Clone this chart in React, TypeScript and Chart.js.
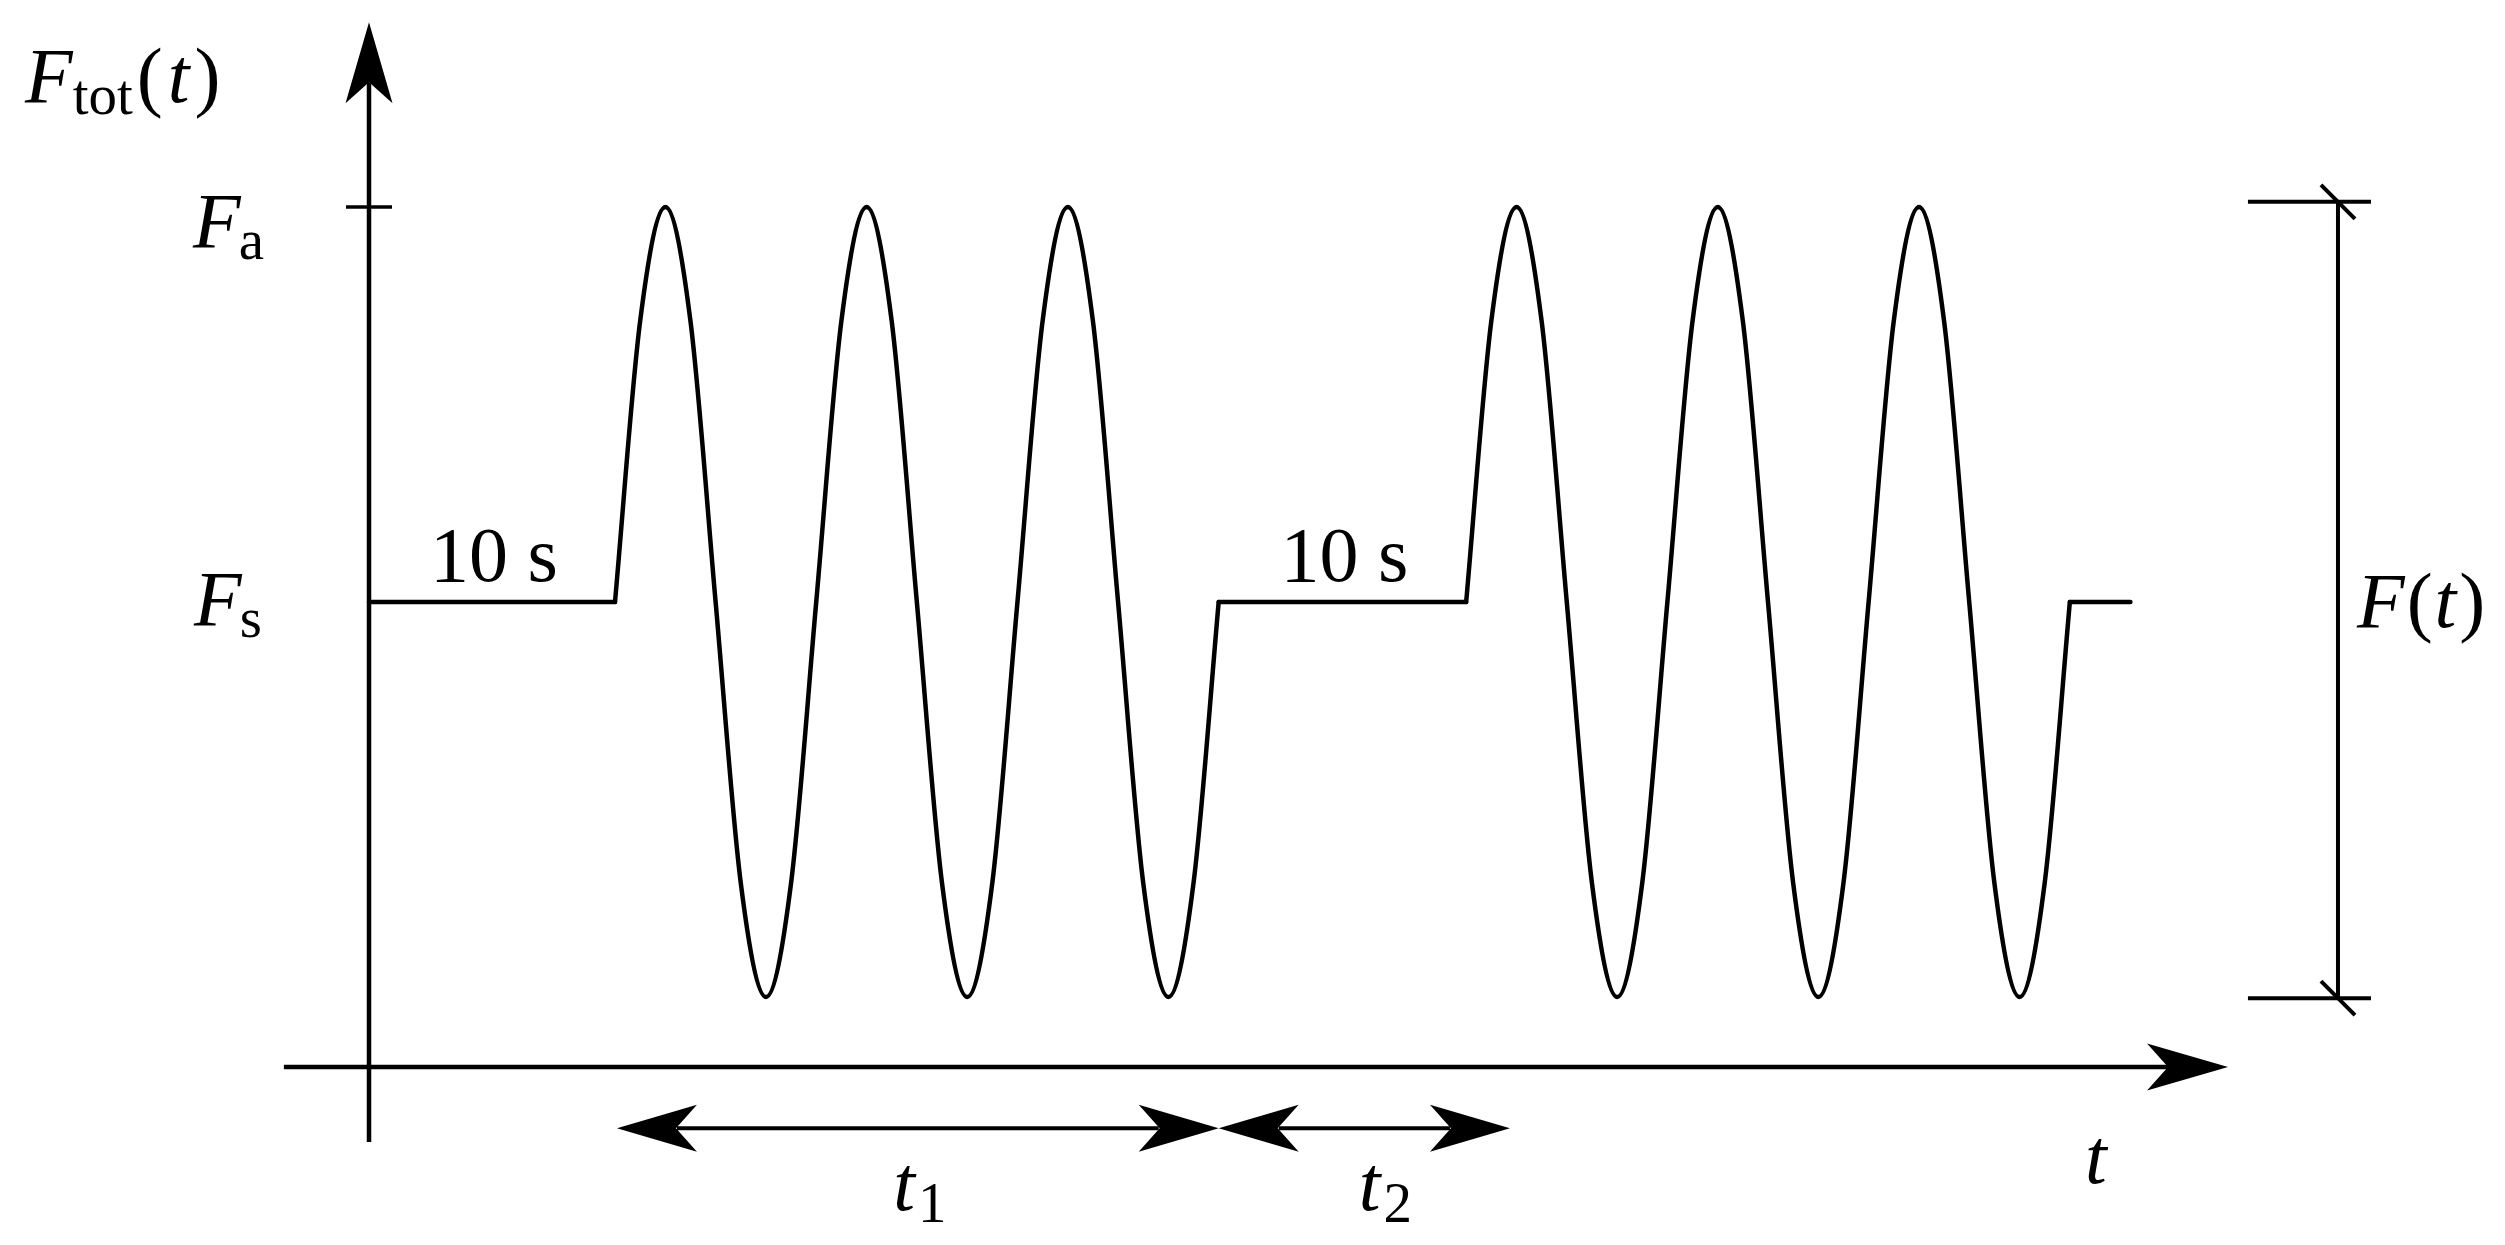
import { useEffect, useRef } from 'react';
import { Chart, registerables } from 'chart.js';

Chart.register(...registerables);

// ---- data (time in s, force relative to Fs in units of the amplitude) ----
const flat1X = [0, 10.0];
const flat1Y = [0, 0];
const burst1X = [10.0, 11.02, 12.05, 13.07, 14.09, 15.11, 16.14, 17.16, 18.18, 19.2, 20.23, 21.25, 22.27, 23.29, 24.32, 25.34, 26.36, 27.38, 28.41, 29.43, 30.45, 31.47, 32.5, 33.52, 34.54];
const burst1Y = [0, 0.71, 1, 0.71, 0, -0.71, -1, -0.71, 0, 0.71, 1, 0.71, 0, -0.71, -1, -0.71, 0, 0.71, 1, 0.71, 0, -0.71, -1, -0.71, 0];
const flat2X = [34.54, 44.6];
const flat2Y = [0, 0];
const burst2X = [44.6, 45.62, 46.65, 47.67, 48.69, 49.71, 50.74, 51.76, 52.78, 53.8, 54.83, 55.85, 56.87, 57.89, 58.92, 59.94, 60.96, 61.98, 63.01, 64.03, 65.05, 66.07, 67.1, 68.12, 69.14];
const burst2Y = [0, 0.71, 1, 0.71, 0, -0.71, -1, -0.71, 0, 0.71, 1, 0.71, 0, -0.71, -1, -0.71, 0, 0.71, 1, 0.71, 0, -0.71, -1, -0.71, 0];
const flat3X = [69.14, 71.6];
const flat3Y = [0, 0];

// axis ticks (Fa, Fs)
const yTickValues = [1, 0];
const yTickSubs = ['a', 's'];
// x axis line extent / y axis line extent
const xAxisSpan = [-3.46, 75.57];
const xAxisLevel = -1.177;
const yAxisSpan = [-1.367, 1.468];
// duration arrows
const t1Span = [10.08, 34.54];
const t2Span = [34.54, 46.38];
const durationLevel = -1.332;
// amplitude dimension on the right
const dimX = 80.04;
const dimLineSpan = [76.38, 81.38];
const dimRange = [-1.003, 1.013];
const flatLabel = '10 s';

const FONT = '"Liberation Serif", "DejaVu Serif", serif';

type Piece = { t: string; it?: boolean; sub?: boolean; dx?: number };

function drawMath(ctx: CanvasRenderingContext2D, pieces: Piece[], x: number, y: number, align: 'left' | 'center', size = 78) {
  const subSize = size * 0.73;
  const drop = 12;
  const fontOf = (p: Piece) => `${p.it ? 'italic ' : ''}${p.sub ? subSize : size}px ${FONT}`;
  let total = 0;
  const widths = pieces.map((p) => {
    ctx.font = fontOf(p);
    const w = ctx.measureText(p.t).width + (p.dx || 0);
    total += w;
    return w;
  });
  let cx = align === 'center' ? x - total / 2 : x;
  pieces.forEach((p, i) => {
    ctx.font = fontOf(p);
    ctx.fillText(p.t, cx, p.sub ? y + drop : y);
    cx += widths[i];
  });
}

function arrowHead(ctx: CanvasRenderingContext2D, tx: number, ty: number, dx: number, dy: number, len = 81, half = 23.5, notch = 21) {
  const bx = tx - dx * len;
  const by = ty - dy * len;
  const nx = -dy;
  const ny = dx;
  ctx.beginPath();
  ctx.moveTo(tx, ty);
  ctx.lineTo(bx + nx * half, by + ny * half);
  ctx.lineTo(tx - dx * (len - notch), ty - dy * (len - notch));
  ctx.lineTo(bx - nx * half, by - ny * half);
  ctx.closePath();
  ctx.fill();
}

function line(ctx: CanvasRenderingContext2D, x1: number, y1: number, x2: number, y2: number, w: number) {
  ctx.lineWidth = w;
  ctx.beginPath();
  ctx.moveTo(x1, y1);
  ctx.lineTo(x2, y2);
  ctx.stroke();
}

const decorPlugin = {
  id: 'decor',
  afterDatasetsDraw(chart: any) {
    const ctx: CanvasRenderingContext2D = chart.ctx;
    const xs = chart.scales.x;
    const ys = chart.scales.y;
    const px = (v: number) => xs.getPixelForValue(v);
    const py = (v: number) => ys.getPixelForValue(v);
    ctx.save();
    ctx.strokeStyle = '#000';
    ctx.fillStyle = '#000';
    ctx.lineCap = 'butt';

    // x axis
    const ax = py(xAxisLevel);
    line(ctx, px(xAxisSpan[0]), ax, px(xAxisSpan[1]) - 60, ax, 4.5);
    arrowHead(ctx, px(xAxisSpan[1]), ax, 1, 0);
    // y axis
    const ay = px(0);
    line(ctx, ay, py(yAxisSpan[0]), ay, py(yAxisSpan[1]) + 60, 4.5);
    arrowHead(ctx, ay, py(yAxisSpan[1]), 0, -1);
    // Fa tick
    line(ctx, ay - 23, py(yTickValues[0]), ay + 23, py(yTickValues[0]), 3.5);

    // amplitude dimension
    const dx = px(dimX);
    dimRange.forEach((v) => {
      line(ctx, px(dimLineSpan[0]), py(v), px(dimLineSpan[1]), py(v), 4);
      line(ctx, dx - 17, py(v) - 17, dx + 17, py(v) + 17, 4);
    });
    line(ctx, dx, py(dimRange[0]), dx, py(dimRange[1]), 4);

    // duration arrows
    const dl = py(durationLevel);
    [t1Span, t2Span].forEach((s) => {
      const a = px(s[0]);
      const b = px(s[1]);
      line(ctx, a + 60, dl, b - 60, dl, 4);
      arrowHead(ctx, a, dl, -1, 0, 80, 23.5, 21);
      arrowHead(ctx, b, dl, 1, 0, 80, 23.5, 21);
    });

    // texts
    ctx.textBaseline = 'alphabetic';
    ctx.textAlign = 'left';
    drawMath(ctx, [{ t: 'F', it: true, dx: 0 }, { t: 'tot', sub: true, dx: 4 }, { t: '(', dx: 5 }, { t: 't', it: true, dx: 5 }, { t: ')' }], ay - 344, py(yAxisSpan[1]) + 80, 'left');
    drawMath(ctx, [{ t: 'F', it: true, dx: -2 }, { t: yTickSubs[0], sub: true }], ay - 176, py(yTickValues[0]) + 40, 'left');
    drawMath(ctx, [{ t: 'F', it: true, dx: -2 }, { t: yTickSubs[1], sub: true }], ay - 175, py(yTickValues[1]) + 23, 'left');
    drawMath(ctx, [{ t: flatLabel }], px((flat1X[0] + flat1X[1]) / 2) + 2, py(0) - 21, 'center');
    drawMath(ctx, [{ t: flatLabel }], px((flat2X[0] + flat2X[1]) / 2) + 2, py(0) - 21, 'center');
    drawMath(ctx, [{ t: 't', it: true, dx: 3 }, { t: '1', sub: true }], px((t1Span[0] + t1Span[1]) / 2) + 2, dl + 82, 'center');
    drawMath(ctx, [{ t: 't', it: true, dx: 3 }, { t: '2', sub: true }], px((t2Span[0] + t2Span[1]) / 2) + 21, dl + 82, 'center');
    drawMath(ctx, [{ t: 't', it: true }], px(xAxisSpan[1]) - 143, ax + 116, 'left');
    drawMath(ctx, [{ t: 'F', it: true, dx: 2 }, { t: '(', dx: 2 }, { t: 't', it: true, dx: 3 }, { t: ')' }], dx + 19, py(0) + 25, 'left');
    ctx.restore();
  },
};

const toPts = (xs: number[], ys: number[]) => xs.map((x, i) => ({ x, y: ys[i] }));

export default function App() {
  const ref = useRef<HTMLCanvasElement | null>(null);
  useEffect(() => {
    if (!ref.current) return;
    const common = { borderColor: '#000', borderWidth: 4.5, pointRadius: 0, fill: false, borderCapStyle: 'round', borderJoinStyle: 'round' };
    const chart = new Chart(ref.current, {
      type: 'line',
      data: {
        datasets: [
          { ...common, data: toPts(flat1X, flat1Y), tension: 0 },
          { ...common, data: toPts(burst1X, burst1Y), cubicInterpolationMode: 'monotone' },
          { ...common, data: toPts(flat2X, flat2Y), tension: 0 },
          { ...common, data: toPts(burst2X, burst2Y), cubicInterpolationMode: 'monotone' },
          { ...common, data: toPts(flat3X, flat3Y), tension: 0 },
        ] as any,
      },
      options: {
        responsive: false,
        animation: false,
        devicePixelRatio: 1,
        layout: { padding: 0 },
        plugins: { legend: { display: false }, tooltip: { enabled: false } },
        scales: {
          x: { type: 'linear', min: -15, max: -15 + 2505 / 24.6, display: false },
          y: { type: 'linear', min: -(1245 - 602) / 395, max: 602 / 395, display: false },
        },
      },
      plugins: [decorPlugin],
    });
    return () => chart.destroy();
  }, []);
  return (
    <div style={{ position: 'fixed', left: 0, top: 0, width: 2505, height: 1245, background: '#fff' }}>
      <canvas ref={ref} width={2505} height={1245} style={{ display: 'block', width: 2505, height: 1245 }} />
    </div>
  );
}
